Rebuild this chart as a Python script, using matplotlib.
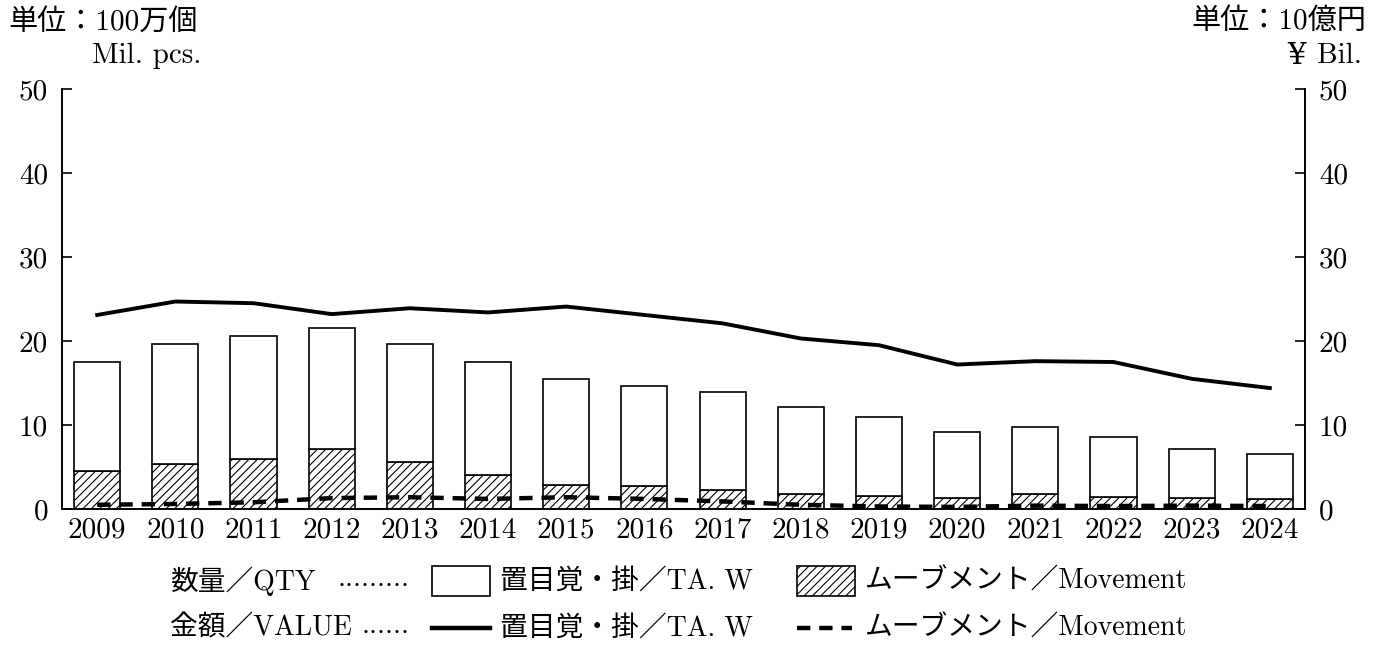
import matplotlib
matplotlib.use("Agg")
import matplotlib.pyplot as plt
import numpy as np
from matplotlib.patches import Rectangle
from matplotlib.lines import Line2D

years = ["2009", "2010", "2011", "2012", "2013", "2014", "2015", "2016",
         "2017", "2018", "2019", "2020", "2021", "2022", "2023", "2024"]
# Quantity (Mil. pcs.) - stacked bars
qty_total = [17.5, 19.7, 20.6, 21.6, 19.6, 17.5, 15.5, 14.7,
             13.9, 12.1, 11.0, 9.2, 9.8, 8.6, 7.1, 6.5]
qty_movement = [4.5, 5.3, 6.0, 7.2, 5.6, 4.0, 2.9, 2.7,
                2.3, 1.8, 1.5, 1.3, 1.8, 1.4, 1.3, 1.15]
qty_taw = [t - m for t, m in zip(qty_total, qty_movement)]
# Value (¥ Bil.)
val_taw = [23.1, 24.7, 24.5, 23.2, 23.9, 23.4, 24.1, 23.1,
           22.1, 20.3, 19.5, 17.2, 17.6, 17.5, 15.5, 14.4]
val_movement = [0.5, 0.6, 0.8, 1.3, 1.4, 1.2, 1.4, 1.2,
                0.9, 0.5, 0.3, 0.25, 0.4, 0.35, 0.4, 0.35]

yticks = [0, 10, 20, 30, 40, 50]

FAM = ["cmr10", "Noto Sans CJK JP", "DejaVu Serif"]
plt.rcParams["font.family"] = FAM
plt.rcParams["axes.formatter.use_mathtext"] = True
plt.rcParams["hatch.linewidth"] = 0.8
FS = 21
LFS = 20

fig = plt.figure(figsize=(13.76, 6.5), dpi=100)
ax = fig.add_axes([62/1376, 1 - 509/650, (1305-62)/1376, (509-89)/650])
ax2 = ax.twinx()

x = np.arange(len(years))
w = 0.59
ax.bar(x, qty_movement, w, color="white", edgecolor="black", linewidth=1.2,
       hatch="////", zorder=2)
ax.bar(x, qty_taw, w, bottom=qty_movement, color="white", edgecolor="black",
       linewidth=1.2, zorder=2)

ax2.plot(x, val_taw, color="black", lw=2.8, solid_joinstyle="round", zorder=3)
ax2.plot(x, val_movement, color="black", lw=3.2, dashes=(3, 2), zorder=3)

for a in (ax, ax2):
    a.set_ylim(0, 50)
    a.set_yticks(yticks)
    a.set_xlim(-0.45, len(years) - 0.55)
    a.spines["top"].set_visible(False)
    for s in ("left", "right", "bottom"):
        a.spines[s].set_linewidth(1.2)
    a.tick_params(axis="y", direction="in", length=7, width=1.2,
                  labelsize=FS, pad=10)
ax.set_yticklabels([str(v) for v in yticks])
ax2.set_yticklabels([str(v) for v in yticks])
ax.set_xticks(x)
ax.set_xticklabels(years)
ax.tick_params(axis="x", length=0, labelsize=FS, pad=6)

# Unit annotations
fig.text(8/1376, 1 - 22/650, "単位：100万個", fontsize=FS, va="center", ha="left")
fig.text(92/1376, 1 - 56/650, "Mil. pcs.", fontsize=FS, va="center", ha="left")
fig.text(1366/1376, 1 - 22/650, "単位：10億円", fontsize=FS, va="center", ha="right")
fig.text(1362/1376, 1 - 56/650, "Bil.", fontsize=FS, va="center", ha="right")
fig.text(1306/1376, 1 - 56/650, "¥", fontsize=FS, va="center", ha="right",
         family="DejaVu Serif")

# Legend (manual)
def fx(px):
    return px / 1376
def fy(py):
    return 1 - py / 650

r1, r2 = 581, 628
fig.text(fx(170), fy(r1), "数量／QTY", fontsize=LFS, va="center", ha="left")
fig.text(fx(170), fy(r2), "金額／VALUE", fontsize=LFS, va="center", ha="left")
fig.text(fx(410), fy(r1) - 0.008, "·········", fontsize=18, va="center", ha="right",
         family="DejaVu Serif")
fig.text(fx(410), fy(r2) - 0.008, "······", fontsize=18, va="center", ha="right",
         family="DejaVu Serif")
fig.add_artist(Rectangle((fx(432), fy(596)), fx(58), fy(566) - fy(596),
                         transform=fig.transFigure, facecolor="white",
                         edgecolor="black", lw=1.2))
fig.add_artist(Rectangle((fx(797), fy(596)), fx(58), fy(566) - fy(596),
                         transform=fig.transFigure, facecolor="white",
                         edgecolor="black", lw=1.2, hatch="////"))
fig.add_artist(Line2D([fx(432), fx(490)], [fy(r2), fy(r2)],
                      transform=fig.transFigure, color="black", lw=3.2))
fig.add_artist(Line2D([fx(797), fx(852)], [fy(r2), fy(r2)],
                      transform=fig.transFigure, color="black", lw=3.2,
                      dashes=(3, 2)))
fig.text(fx(500), fy(r1), "置目覚・掛／TA. W", fontsize=LFS, va="center", ha="left")
fig.text(fx(500), fy(r2), "置目覚・掛／TA. W", fontsize=LFS, va="center", ha="left")
fig.text(fx(865), fy(r1), "ムーブメント／Movement", fontsize=LFS, va="center", ha="left")
fig.text(fx(865), fy(r2), "ムーブメント／Movement", fontsize=LFS, va="center", ha="left")

fig.savefig("out.png", dpi=100)
